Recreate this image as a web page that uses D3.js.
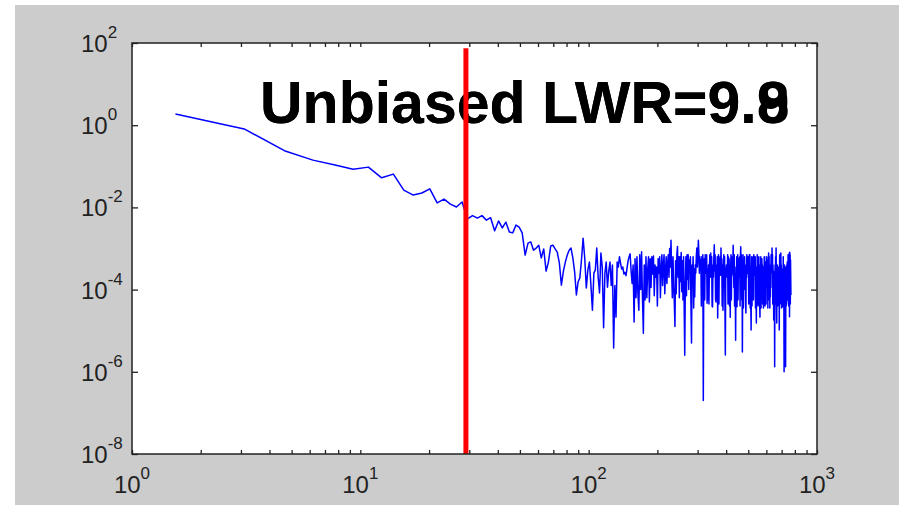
<!DOCTYPE html>
<html>
<head>
<meta charset="utf-8">
<script src="https://cdn.jsdelivr.net/npm/d3@7"></script>
<style>
  body { margin: 0; background: #fff; }
  text { font-family: "Liberation Sans", Arial, sans-serif; }
</style>
</head>
<body>
<div id="chart"></div>
<script>
// spacing of the frequency bins (bin k sits at k * freqStep)
const freqStep = 1.55;

// log10 of the spectrum, one value per bin
const powerLog10 = [
  0.27,-0.09,-0.62,-0.85,-0.97,-1.07,-1.02,-1.28,-1.19,-1.58,-1.70,-1.65,-1.55,-1.89,-1.80,-1.92,-1.99,-1.87,
  -2.28,-2.20,-2.26,-2.20,-2.31,-2.25,-2.57,-2.33,-2.50,-2.36,-2.60,-2.62,-2.43,-2.48,-2.62,-3.16,-2.87,-2.84,-3.04,-2.99,-2.92,-3.23,
  -3.01,-3.55,-3.33,-2.94,-2.92,-3.01,-3.09,-3.35,-3.89,-3.55,-3.33,-3.16,-3.04,-2.99,-3.23,-3.57,-4.13,-3.81,-3.72,-3.28,-2.75,-3.23,-3.96,-3.52,-3.33,-3.89,-4.50,
  -3.60,-3.52,-2.99,-3.70,-4.08,-3.11,-3.45,-4.93,-3.60,-3.33,-3.94,-3.55,-3.33,-3.90,-3.40,-5.42,-3.90,-4.67,-3.33,-3.45,-3.20,-3.36,-3.50,-3.45,-3.62,-3.58,-3.66,-3.48,-3.30,-3.20,-3.13,-3.55,-3.85,
  -3.40,-4.79,-3.25,-4.20,-3.20,-4.10,-4.50,-3.15,-4.00,-3.08,-4.20,-5.06,-3.40,-4.25,-3.20,-4.20,-3.50,-3.20,-4.30,-3.25,-3.95,-3.20,-3.62,-3.18,-4.15,-3.40,-3.70,-3.45,-4.40,-3.25,-3.60,-3.20,-4.20,-3.50,-3.15,-3.90,-3.40,-3.15,-4.10,-3.55,
  -3.20,-3.85,-3.40,-3.15,-3.70,-3.00,-3.45,-2.80,-3.60,-4.20,-3.20,-3.90,-4.30,-4.90,-3.30,-4.10,-3.15,-2.95,-3.70,-3.20,-4.20,-3.20,-3.80,-3.10,-4.05,-3.30,-4.25,-3.20,-4.40,-5.60,-3.90,-3.20,-4.15,-3.15,-3.75,
  -3.15,-4.00,-3.28,-3.60,-3.20,-4.40,-5.30,-3.40,-3.70,-3.20,-4.45,-3.50,-4.18,-3.40,
  -3.60,-3.20,-2.99,-3.45,-3.25,-2.80,-3.10,-3.60,-3.20,-3.50,-3.28,-4.40,-3.20,-3.60,-3.15,-6.70,-3.40,-3.25,-4.25,-3.15,-3.50,
  -3.60,-3.15,-4.33,-3.50,-4.25,-3.40,-4.35,-3.45,-3.15,-3.70,-3.11,-3.60,-3.20,-4.40,-4.42,-3.40,-3.70,-3.20,-2.91,-3.55,-3.15,-4.25,-4.30,-3.40,
  -3.70,-3.20,-4.69,-3.60,-3.15,-4.35,-3.28,-3.50,-3.20,-3.65,-2.99,-3.45,-3.25,-4.40,-3.40,-4.50,-3.60,-3.15,-3.95,-3.20,-4.45,-5.59,-3.70,-3.50,-3.40,-3.40,
  -3.70,-3.15,-4.35,-3.20,-3.60,-3.25,-4.40,-3.45,-4.67,-3.50,-3.15,-4.25,-3.40,-3.65,-3.20,-3.55,-2.92,-3.40,-3.95,-3.15,-4.40,-3.45,-4.10,-5.23,-3.60,-4.40,-3.20,-4.42,-3.50,
  -3.15,-4.25,-3.40,-3.70,-3.23,-3.60,-3.20,-4.40,-3.20,-2.96,-3.50,-3.15,-4.25,-3.45,-5.52,-3.60,-3.15,-4.45,-3.40,-3.95,-3.95,-3.20,-4.00,-3.50,-4.35,-4.57,-3.40,-3.70,-3.15,-3.60,-3.20,-3.25,
  -3.60,-3.20,-4.35,-3.40,-3.15,-3.55,-3.15,-4.45,-3.45,-4.40,-4.98,-3.60,-3.20,-4.40,-3.40,-3.95,-3.50,-3.20,-4.25,-3.15,-3.65,-3.25,-3.20,-3.60,-3.20,-4.45,-3.45,-4.10,-4.81,-3.50,-4.35,-3.15,-3.70,-3.40,-4.40,-3.22,
  -3.60,-3.20,-4.35,-3.40,-4.40,-4.67,-3.50,-4.25,-3.20,-4.45,-3.45,-3.70,-3.25,-3.60,-3.40,-4.35,-3.50,-4.00,-4.45,-3.45,-4.25,-3.20,-3.70,-3.40,-4.40,-3.33,-3.60,-3.45,-4.35,-3.20,-3.95,-3.40,-3.28,-3.70,-3.45,-4.45,-3.20,-3.60,-3.11,-3.50,
  -3.20,-4.25,-3.40,-4.45,-3.60,-4.18,-3.45,-3.95,-3.15,-3.60,-3.20,-3.50,-2.99,-3.45,-3.15,-4.35,-3.40,-4.10,-3.55,-4.74,-3.60,-4.40,-4.30,-5.88,-3.70,-3.40,-4.35,-3.20,-3.60,-2.99,-3.50,-4.45,-4.81,-3.60,-3.40,-4.40,-3.50,-4.25,-3.45,-4.10,-3.60,-4.40,-3.70,-4.98,
  -3.50,-3.15,-4.35,-3.40,-3.70,-3.25,-3.11,-3.60,-3.40,-4.45,-3.50,-4.40,-3.60,-4.00,-4.42,-3.50,-4.25,-3.20,-4.40,-3.45,-4.30,-6.00,-3.70,-3.40,-4.70,-3.60,-4.40,-4.40,-5.88,-4.25,-3.45,-4.40,-3.50,-4.35,-3.40,-3.70,-3.33,-3.60,-3.40,-4.25,-3.15,-3.65,-3.20,-4.40,-3.20,-3.50,-3.11,-4.66,-3.09,-3.60,-3.15,-4.35,-3.28,-3.70,-4.13
];

// vertical marker
const cutoffFreq = 29;
const cutoffTop = 75;

// overprinted titles
const titleLines = ["Unbiased LWR=9.8", "Unbiased LWR=9.9"];

// axis ticks
const xTickValues = [1, 10, 100, 1000];
const yTickValues = [1e2, 1e0, 1e-2, 1e-4, 1e-6, 1e-8];

const width = 899;
const height = 506;

const svg = d3.select("#chart")
    .append("svg")
    .attr("width", width)
    .attr("height", height);

// grey figure background
svg.append("rect")
    .attr("x", 15)
    .attr("y", 5)
    .attr("width", width - 15)
    .attr("height", height - 6)
    .attr("fill", "#cccccc");

const x = d3.scaleLog().domain([1, 1000]).range([132, 817]);
const y = d3.scaleLog().domain([1e-8, 1e2]).range([454, 43]);

const [x0, x1] = x.range();
const [y0, y1] = y.range();

// white axes area
svg.append("rect")
    .attr("x", x0)
    .attr("y", y1)
    .attr("width", x1 - x0)
    .attr("height", y0 - y1)
    .attr("fill", "#ffffff");

svg.append("clipPath")
    .attr("id", "plot-clip")
    .append("rect")
    .attr("x", x0)
    .attr("y", y1)
    .attr("width", x1 - x0)
    .attr("height", y0 - y1);

// major + minor x ticks
const xAllTicks = [];
xTickValues.slice(0, -1).forEach(d => {
    for (let m = 1; m < 10; m++) xAllTicks.push(d * m);
});
xAllTicks.push(xTickValues[xTickValues.length - 1]);

function styleAxis(g) {
    g.select(".domain").remove();
    g.selectAll(".tick line").attr("stroke", "#222").attr("stroke-width", 1.3);
    g.selectAll(".tick text").remove();
}

svg.append("g")
    .attr("transform", `translate(0,${y0})`)
    .call(d3.axisBottom(x).tickValues(xAllTicks).tickSize(-4).tickFormat(""))
    .call(styleAxis);

svg.append("g")
    .attr("transform", `translate(0,${y1})`)
    .call(d3.axisTop(x).tickValues(xAllTicks).tickSize(-4).tickFormat(""))
    .call(styleAxis);

svg.append("g")
    .attr("transform", `translate(${x0},0)`)
    .call(d3.axisLeft(y).tickValues(yTickValues).tickSize(-6).tickFormat(""))
    .call(styleAxis);

svg.append("g")
    .attr("transform", `translate(${x1},0)`)
    .call(d3.axisRight(y).tickValues(yTickValues).tickSize(-6).tickFormat(""))
    .call(styleAxis);

// tick labels as 10 with a superscript exponent
const expOf = v => String(Math.round(Math.log10(v)));

const xLabels = svg.selectAll(".x-label")
    .data(xTickValues)
    .enter().append("text")
    .attr("class", "x-label")
    .attr("x", d => x(d))
    .attr("y", y0 + 39)
    .attr("text-anchor", "middle")
    .attr("fill", "#222")
    .style("font-size", "24px");
xLabels.append("tspan").text("10");
xLabels.append("tspan").attr("dy", -14).style("font-size", "17px").text(expOf);

const yLabels = svg.selectAll(".y-label")
    .data(yTickValues)
    .enter().append("text")
    .attr("class", "y-label")
    .attr("x", x0 - 51)
    .attr("y", d => y(d) + 9)
    .attr("fill", "#222")
    .style("font-size", "24px");
yLabels.append("tspan").text("10");
yLabels.append("tspan").attr("dy", -14).style("font-size", "17px").text(expOf);

// spectrum
const spectrum = powerLog10.map((v, i) => ({ f: (i + 1) * freqStep, p: Math.pow(10, v) }));

const line = d3.line()
    .x(d => x(d.f))
    .y(d => y(d.p));

svg.append("path")
    .datum(spectrum)
    .attr("clip-path", "url(#plot-clip)")
    .attr("fill", "none")
    .attr("stroke", "#0000ff")
    .attr("stroke-width", 1.5)
    .attr("stroke-linejoin", "round")
    .attr("d", line);

// title, drawn twice on top of itself
svg.selectAll(".title")
    .data(titleLines)
    .enter().append("text")
    .attr("class", "title")
    .attr("x", 260)
    .attr("y", 123)
    .attr("fill", "#000")
    .style("font-size", "59px")
    .style("font-weight", "bold")
    .text(d => d);

// red cutoff line
svg.append("line")
    .attr("x1", x(cutoffFreq))
    .attr("x2", x(cutoffFreq))
    .attr("y1", y(cutoffTop))
    .attr("y2", y0)
    .attr("stroke", "#ff0000")
    .attr("stroke-width", 5);

// axes box
svg.append("rect")
    .attr("x", x0)
    .attr("y", y1)
    .attr("width", x1 - x0)
    .attr("height", y0 - y1)
    .attr("fill", "none")
    .attr("stroke", "#222")
    .attr("stroke-width", 1.5);
</script>
</body>
</html>
